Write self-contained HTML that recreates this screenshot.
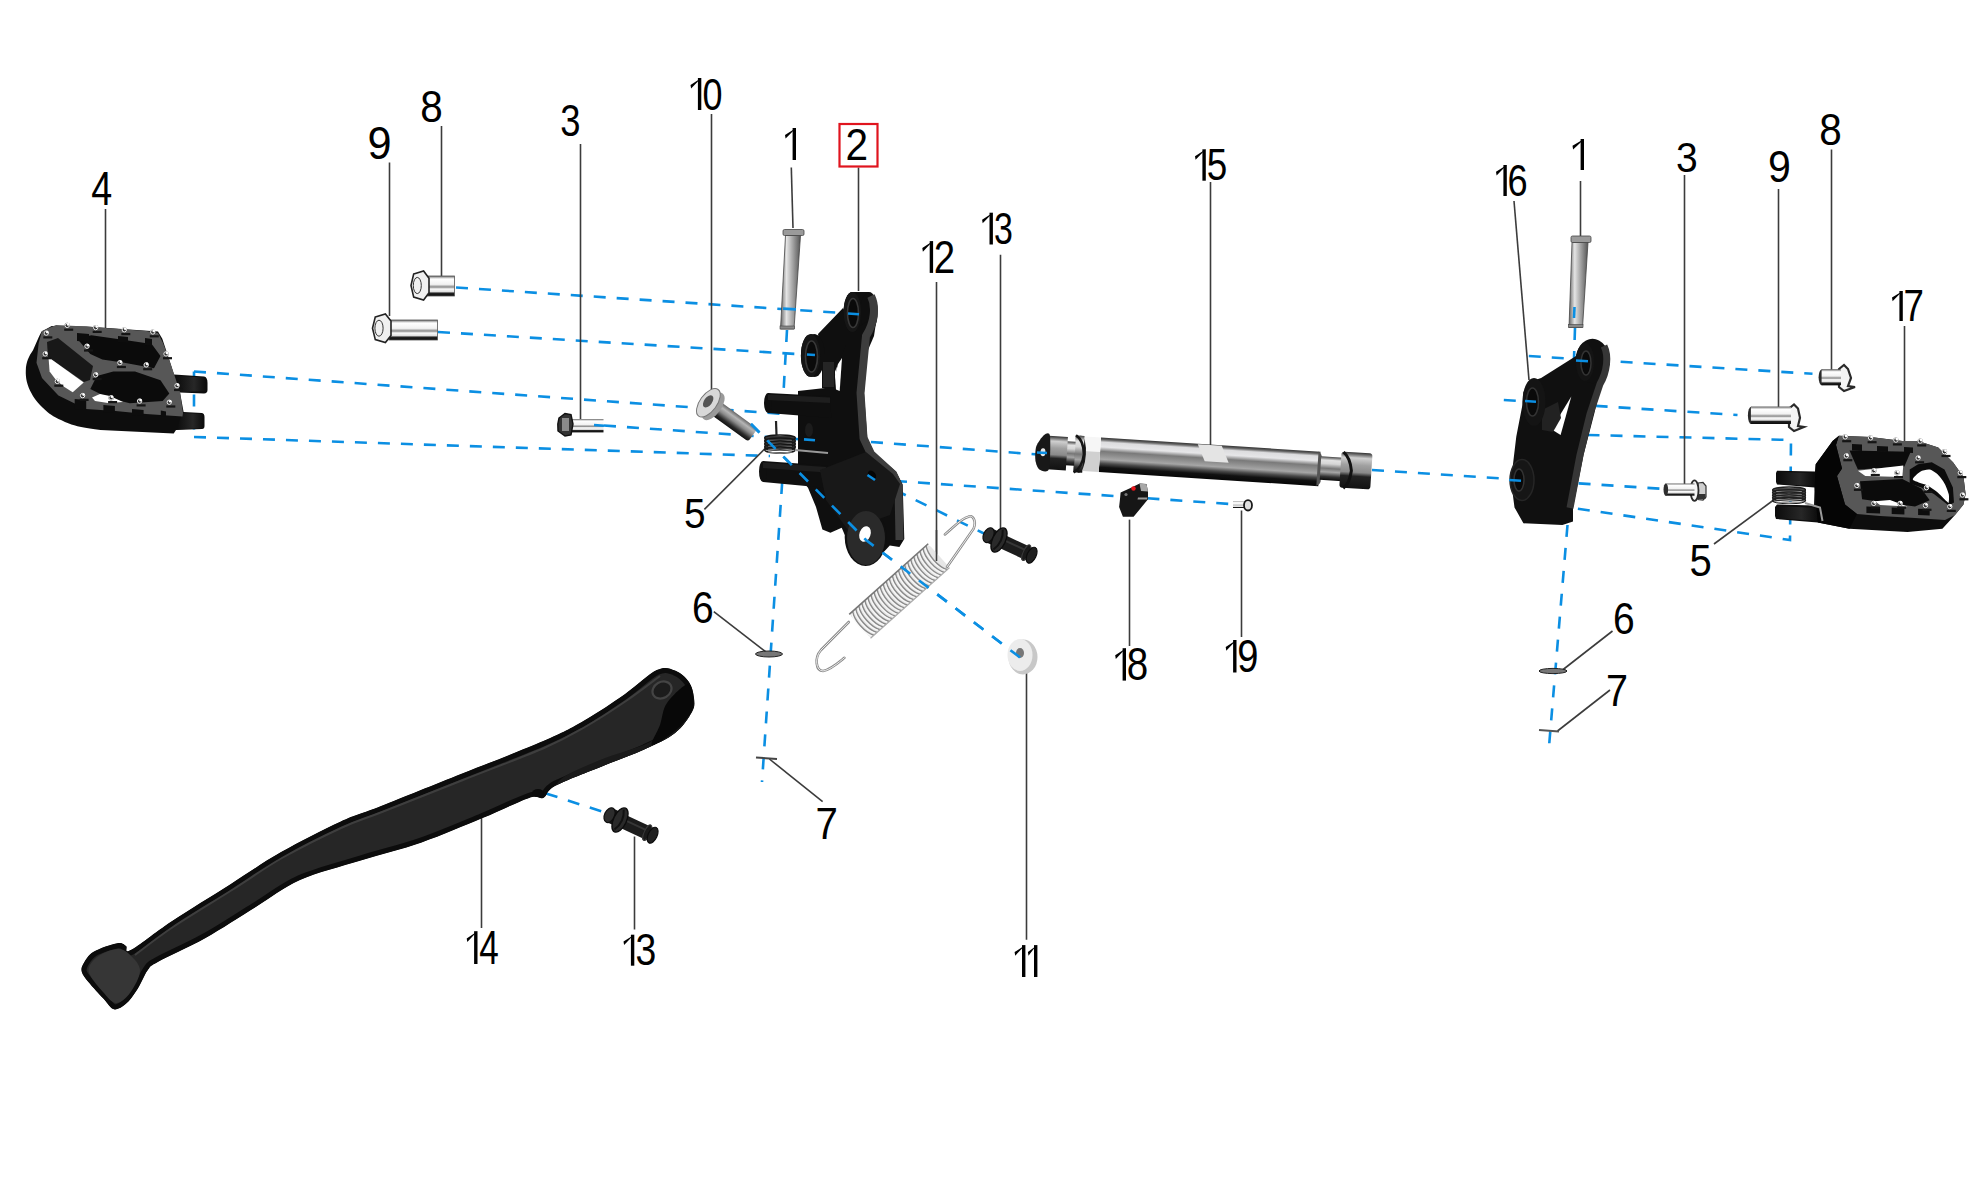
<!DOCTYPE html>
<html><head><meta charset="utf-8"><style>
html,body{margin:0;padding:0;background:#fff;width:1973px;height:1184px;overflow:hidden}
svg{display:block;font-family:"Liberation Sans",sans-serif}
</style></head><body>
<svg width="1973" height="1184" viewBox="0 0 1973 1184">
<defs>
<linearGradient id="shaft" x1="0" y1="0" x2="0" y2="1">
 <stop offset="0" stop-color="#333"/><stop offset="0.06" stop-color="#666"/><stop offset="0.13" stop-color="#dcdcde"/><stop offset="0.27" stop-color="#e6e6e8"/>
 <stop offset="0.4" stop-color="#7a7a7a"/><stop offset="0.5" stop-color="#8c8c8c"/><stop offset="0.63" stop-color="#a6a6a6"/><stop offset="0.75" stop-color="#4a4a4a"/>
 <stop offset="0.86" stop-color="#111"/><stop offset="1" stop-color="#070707"/></linearGradient>
<linearGradient id="shaft2" x1="0" y1="0" x2="0" y2="1">
 <stop offset="0" stop-color="#444"/><stop offset="0.15" stop-color="#e2e2e2"/><stop offset="0.3" stop-color="#d5d5d5"/>
 <stop offset="0.5" stop-color="#777"/><stop offset="0.65" stop-color="#a5a5a5"/><stop offset="0.85" stop-color="#333"/><stop offset="1" stop-color="#0a0a0a"/></linearGradient>
<linearGradient id="cap" x1="0" y1="0" x2="0" y2="1">
 <stop offset="0" stop-color="#333"/><stop offset="0.15" stop-color="#cfcfcf"/><stop offset="0.35" stop-color="#a0a0a0"/>
 <stop offset="0.55" stop-color="#8a8a8a"/><stop offset="0.66" stop-color="#222"/><stop offset="1" stop-color="#121212"/></linearGradient>
<linearGradient id="bolt" x1="0" y1="0" x2="0" y2="1">
 <stop offset="0" stop-color="#666"/><stop offset="0.08" stop-color="#bbb"/><stop offset="0.15" stop-color="#fff"/><stop offset="0.42" stop-color="#f2f2f2"/>
 <stop offset="0.55" stop-color="#8a8a8a"/><stop offset="0.65" stop-color="#fafafa"/><stop offset="0.78" stop-color="#e0e0e0"/><stop offset="0.86" stop-color="#222"/><stop offset="1" stop-color="#0a0a0a"/></linearGradient>
<linearGradient id="pin10" x1="0" y1="0" x2="0" y2="1">
 <stop offset="0" stop-color="#666"/><stop offset="0.25" stop-color="#b5b5b5"/><stop offset="0.5" stop-color="#8a8a8a"/><stop offset="0.8" stop-color="#2a2a2a"/><stop offset="1" stop-color="#111"/></linearGradient>
<linearGradient id="pin" x1="0" y1="0" x2="1" y2="0">
 <stop offset="0" stop-color="#666"/><stop offset="0.3" stop-color="#e4e4e4"/><stop offset="0.55" stop-color="#b0b0b0"/><stop offset="1" stop-color="#555"/></linearGradient>
<linearGradient id="prong" x1="0" y1="0" x2="1" y2="0">
 <stop offset="0" stop-color="#0c0c0c"/><stop offset="0.6" stop-color="#2a2a2a"/><stop offset="1" stop-color="#0c0c0c"/></linearGradient>
</defs>
<rect width="1973" height="1184" fill="#fff"/>
<path d="M456.0,287.5 L858.0,314.0" fill="none" stroke="#0b8fe3" stroke-width="2.6" stroke-dasharray="12 11"/>
<path d="M438.0,332.0 L813.0,355.0" fill="none" stroke="#0b8fe3" stroke-width="2.6" stroke-dasharray="12 11"/>
<path d="M194.0,371.5 L784.0,414.0" fill="none" stroke="#0b8fe3" stroke-width="2.6" stroke-dasharray="12 11"/>
<path d="M194.0,371.5 L194.0,437.0" fill="none" stroke="#0b8fe3" stroke-width="2.6" stroke-dasharray="12 11"/>
<path d="M194.0,437.0 L770.0,456.0" fill="none" stroke="#0b8fe3" stroke-width="2.6" stroke-dasharray="12 11"/>
<path d="M604.0,425.5 L811.0,440.0" fill="none" stroke="#0b8fe3" stroke-width="2.6" stroke-dasharray="12 11"/>
<path d="M871.0,442.0 L1045.0,455.0" fill="none" stroke="#0b8fe3" stroke-width="2.6" stroke-dasharray="12 11"/>
<path d="M751.0,424.0 L866.0,540.0 L1022.0,659.0" fill="none" stroke="#0b8fe3" stroke-width="2.6" stroke-dasharray="12 11"/>
<path d="M787.0,330.0 L783.3,396.0" fill="none" stroke="#0b8fe3" stroke-width="2.6" stroke-dasharray="12 11"/>
<path d="M782.2,482.0 L762.0,782.0" fill="none" stroke="#0b8fe3" stroke-width="2.6" stroke-dasharray="12 11"/>
<path d="M895.0,481.0 L1245.0,505.0" fill="none" stroke="#0b8fe3" stroke-width="2.6" stroke-dasharray="12 11"/>
<path d="M895.0,490.0 L985.0,534.0" fill="none" stroke="#0b8fe3" stroke-width="2.6" stroke-dasharray="12 11"/>
<path d="M546.0,793.4 L604.5,812.3" fill="none" stroke="#0b8fe3" stroke-width="2.6" stroke-dasharray="12 11"/>
<path d="M1372.0,470.0 L1665.0,489.0" fill="none" stroke="#0b8fe3" stroke-width="2.6" stroke-dasharray="12 11"/>
<path d="M1528.8,356.0 L1812.5,373.8" fill="none" stroke="#0b8fe3" stroke-width="2.6" stroke-dasharray="12 11"/>
<path d="M1503.8,400.0 L1737.5,415.0" fill="none" stroke="#0b8fe3" stroke-width="2.6" stroke-dasharray="12 11"/>
<path d="M1587.5,435.0 L1791.0,440.0 L1790.0,540.0 L1570.0,507.5" fill="none" stroke="#0b8fe3" stroke-width="2.6" stroke-dasharray="12 11"/>
<path d="M1575.0,328.0 L1572.0,420.0" fill="none" stroke="#0b8fe3" stroke-width="2.6" stroke-dasharray="12 11"/>
<path d="M1567.5,525.0 L1548.8,749.0" fill="none" stroke="#0b8fe3" stroke-width="2.6" stroke-dasharray="12 11"/>
<line x1="105.5" y1="209.0" x2="105.5" y2="335.0" stroke="#3c3c3c" stroke-width="1.6"/>
<line x1="389.5" y1="162.5" x2="389.5" y2="316.0" stroke="#3c3c3c" stroke-width="1.6"/>
<line x1="441.5" y1="126.0" x2="441.5" y2="282.0" stroke="#3c3c3c" stroke-width="1.6"/>
<line x1="580.5" y1="144.0" x2="580.5" y2="420.0" stroke="#3c3c3c" stroke-width="1.6"/>
<line x1="711.5" y1="114.0" x2="711.5" y2="391.0" stroke="#3c3c3c" stroke-width="1.6"/>
<line x1="858.5" y1="167.5" x2="858.5" y2="291.0" stroke="#3c3c3c" stroke-width="1.6"/>
<line x1="936.5" y1="282.0" x2="936.5" y2="560.0" stroke="#3c3c3c" stroke-width="1.6"/>
<line x1="1000.5" y1="254.7" x2="1000.5" y2="530.0" stroke="#3c3c3c" stroke-width="1.6"/>
<line x1="1210.5" y1="182.0" x2="1210.5" y2="461.0" stroke="#3c3c3c" stroke-width="1.6"/>
<line x1="1129.5" y1="519.6" x2="1129.5" y2="646.0" stroke="#3c3c3c" stroke-width="1.6"/>
<line x1="1241.5" y1="510.5" x2="1241.5" y2="637.0" stroke="#3c3c3c" stroke-width="1.6"/>
<line x1="1580.5" y1="181.0" x2="1580.5" y2="236.0" stroke="#3c3c3c" stroke-width="1.6"/>
<line x1="1684.5" y1="175.0" x2="1684.5" y2="490.0" stroke="#3c3c3c" stroke-width="1.6"/>
<line x1="1778.5" y1="189.0" x2="1778.5" y2="416.0" stroke="#3c3c3c" stroke-width="1.6"/>
<line x1="1831.5" y1="149.5" x2="1831.5" y2="370.0" stroke="#3c3c3c" stroke-width="1.6"/>
<line x1="1904.5" y1="326.0" x2="1904.5" y2="450.0" stroke="#3c3c3c" stroke-width="1.6"/>
<line x1="481.5" y1="802.0" x2="481.5" y2="928.0" stroke="#3c3c3c" stroke-width="1.6"/>
<line x1="634.5" y1="836.5" x2="634.5" y2="929.5" stroke="#3c3c3c" stroke-width="1.6"/>
<line x1="1026.5" y1="666.0" x2="1026.5" y2="939.7" stroke="#3c3c3c" stroke-width="1.6"/>
<line x1="791.3" y1="167.5" x2="793.0" y2="228.0" stroke="#3c3c3c" stroke-width="1.6"/>
<line x1="1514.0" y1="201.0" x2="1529.0" y2="380.0" stroke="#3c3c3c" stroke-width="1.6"/>
<line x1="704.4" y1="509.4" x2="766.0" y2="447.5" stroke="#3c3c3c" stroke-width="1.6"/>
<line x1="713.8" y1="611.6" x2="766.0" y2="652.0" stroke="#3c3c3c" stroke-width="1.6"/>
<line x1="769.4" y1="759.0" x2="822.6" y2="801.6" stroke="#3c3c3c" stroke-width="1.6"/>
<line x1="1714.0" y1="544.0" x2="1775.0" y2="499.0" stroke="#3c3c3c" stroke-width="1.6"/>
<line x1="1612.5" y1="631.0" x2="1562.5" y2="670.0" stroke="#3c3c3c" stroke-width="1.6"/>
<line x1="1610.0" y1="690.0" x2="1557.5" y2="731.0" stroke="#3c3c3c" stroke-width="1.6"/>
<path d="M41.6,331.6 L51.7,325.9 L86,326.5 L158,331.6 L162.3,338.8 L170.9,364.7 L174,374.5 L204,376.5 Q207.5,377 207.5,383 L207.5,390 Q207.5,393.4 204,393.4 L180,392.5 L183.6,412 L202,413 Q204.5,413.5 204.5,417 L204.5,426 Q204.5,429 202,429 L176,430 L173.7,433.6 L100.5,430 C85,428 75,426 68.9,423.5 C58,419 52,416 47.4,412 C40,405 35,400 31.6,393.4 C27,385 25.5,378 25.8,370.4 C26,362 29,356 33,350.3 C36,344 38,338 41.6,331.6 Z" fill="#0d0d0d"/>
<path d="M176.0,376.0 L205.0,377.5 L206.0,391.0 L180.0,392.0 Z" fill="url(#prong)" opacity="0.9"/>
<path d="M182.0,413.0 L203.0,414.0 L203.5,428.0 L177.0,429.5 Z" fill="url(#prong)" opacity="0.9"/>
<path d="M42.0,331.0 L56.0,325.0 L86.0,326.5 L115.5,328.7 L146.0,331.0 L158.0,333.0 L163.0,343.0 L169.0,359.0 L174.0,374.0 L180.0,392.0 L183.0,413.0 L182.5,416.5 L146.0,414.0 L115.5,411.0 L86.0,409.0 L58.4,395.6 L42.0,378.0 L36.5,362.7 L38.7,343.0 Z" fill="#575757"/>
<path d="M77.0,338.5 L91.3,335.2 L129.8,340.7 L151.7,344.0 L160.5,356.0 L154.0,368.2 L124.3,362.7 L102.3,359.4 L90.3,354.0 Z" fill="#0b0b0b"/>
<path d="M47.0,342.0 L58.0,338.0 L93.0,366.0 L90.0,380.0 L84.0,382.0 L48.0,357.0 Z" fill="#181818"/>
<path d="M48.5,357.2 L83.7,382.4 L72.7,392.3 L64.0,386.8 L56.0,380.0 L49.6,371.5 Z" fill="#fff"/>
<path d="M90.3,389.0 L96.8,376.0 L113.3,371.5 L135.0,371.5 L160.5,380.3 L169.3,393.4 L162.7,401.0 L129.8,403.3 L107.8,397.8 Z" fill="#0b0b0b"/>
<path d="M92.0,397.5 L100.0,394.0 L110.0,396.0 L123.0,402.0 L108.0,403.0 L95.0,401.0 Z" fill="#fff"/>
<path d="M74.7,399.0 L86.2,400.0 L86.2,410.0 L74.7,409.0 Z" fill="#0d0d0d"/>
<path d="M103.4,404.9 L114.9,405.9 L114.9,413.0 L103.4,412.0 Z" fill="#0d0d0d"/>
<path d="M132.0,409.0 L143.6,410.0 L143.6,416.0 L132.0,415.0 Z" fill="#0d0d0d"/>
<path d="M160.8,410.6 L166.0,411.6 L166.0,417.0 L160.8,416.0 Z" fill="#0d0d0d"/>
<path d="M77.0,333.0 L89.0,334.0 L89.0,342.0 L77.0,341.0 Z" fill="#0d0d0d"/>
<path d="M118.0,336.0 L128.0,337.0 L128.0,343.0 L118.0,342.0 Z" fill="#0d0d0d"/>
<path d="M145.0,338.0 L152.0,339.0 L152.0,346.0 L145.0,345.0 Z" fill="#0d0d0d"/>
<rect x="43.3" y="336.3" width="9" height="2.2" fill="#151515"/>
<circle cx="46.3" cy="333.1" r="2.6" fill="#333"/><circle cx="46.3" cy="333.1" r="2.2" fill="none" stroke="#eee" stroke-width="1"/><circle cx="47.2" cy="332.1" r="1.3" fill="#fff"/>
<rect x="64.2" y="328.6" width="9" height="2.2" fill="#151515"/>
<circle cx="67.2" cy="325.4" r="2.6" fill="#333"/><circle cx="67.2" cy="325.4" r="2.2" fill="none" stroke="#eee" stroke-width="1"/><circle cx="68.1" cy="324.4" r="1.3" fill="#fff"/>
<rect x="92.7" y="330.8" width="9" height="2.2" fill="#151515"/>
<circle cx="95.7" cy="327.6" r="2.6" fill="#333"/><circle cx="95.7" cy="327.6" r="2.2" fill="none" stroke="#eee" stroke-width="1"/><circle cx="96.6" cy="326.6" r="1.3" fill="#fff"/>
<rect x="121.3" y="333.0" width="9" height="2.2" fill="#151515"/>
<circle cx="124.3" cy="329.8" r="2.6" fill="#333"/><circle cx="124.3" cy="329.8" r="2.2" fill="none" stroke="#eee" stroke-width="1"/><circle cx="125.2" cy="328.8" r="1.3" fill="#fff"/>
<rect x="149.8" y="335.2" width="9" height="2.2" fill="#151515"/>
<circle cx="152.8" cy="332.0" r="2.6" fill="#333"/><circle cx="152.8" cy="332.0" r="2.2" fill="none" stroke="#eee" stroke-width="1"/><circle cx="153.7" cy="331.0" r="1.3" fill="#fff"/>
<rect x="84.0" y="349.4" width="9" height="2.2" fill="#151515"/>
<circle cx="87.0" cy="346.2" r="2.6" fill="#333"/><circle cx="87.0" cy="346.2" r="2.2" fill="none" stroke="#eee" stroke-width="1"/><circle cx="87.9" cy="345.2" r="1.3" fill="#fff"/>
<rect x="42.2" y="357.1" width="9" height="2.2" fill="#151515"/>
<circle cx="45.2" cy="353.9" r="2.6" fill="#333"/><circle cx="45.2" cy="353.9" r="2.2" fill="none" stroke="#eee" stroke-width="1"/><circle cx="46.1" cy="352.9" r="1.3" fill="#fff"/>
<rect x="163.0" y="357.1" width="9" height="2.2" fill="#151515"/>
<circle cx="166.0" cy="353.9" r="2.6" fill="#333"/><circle cx="166.0" cy="353.9" r="2.2" fill="none" stroke="#eee" stroke-width="1"/><circle cx="166.9" cy="352.9" r="1.3" fill="#fff"/>
<rect x="116.9" y="365.9" width="9" height="2.2" fill="#151515"/>
<circle cx="119.9" cy="362.7" r="2.6" fill="#333"/><circle cx="119.9" cy="362.7" r="2.2" fill="none" stroke="#eee" stroke-width="1"/><circle cx="120.8" cy="361.7" r="1.3" fill="#fff"/>
<rect x="143.2" y="368.1" width="9" height="2.2" fill="#151515"/>
<circle cx="146.2" cy="364.9" r="2.6" fill="#333"/><circle cx="146.2" cy="364.9" r="2.2" fill="none" stroke="#eee" stroke-width="1"/><circle cx="147.1" cy="363.9" r="1.3" fill="#fff"/>
<rect x="92.7" y="378.0" width="9" height="2.2" fill="#151515"/>
<circle cx="95.7" cy="374.8" r="2.6" fill="#333"/><circle cx="95.7" cy="374.8" r="2.2" fill="none" stroke="#eee" stroke-width="1"/><circle cx="96.6" cy="373.8" r="1.3" fill="#fff"/>
<rect x="174.0" y="388.9" width="9" height="2.2" fill="#151515"/>
<circle cx="177.0" cy="385.7" r="2.6" fill="#333"/><circle cx="177.0" cy="385.7" r="2.2" fill="none" stroke="#eee" stroke-width="1"/><circle cx="177.9" cy="384.7" r="1.3" fill="#fff"/>
<rect x="54.3" y="384.6" width="9" height="2.2" fill="#151515"/>
<circle cx="57.3" cy="381.4" r="2.6" fill="#333"/><circle cx="57.3" cy="381.4" r="2.2" fill="none" stroke="#eee" stroke-width="1"/><circle cx="58.2" cy="380.4" r="1.3" fill="#fff"/>
<rect x="79.6" y="398.8" width="9" height="2.2" fill="#151515"/>
<circle cx="82.6" cy="395.6" r="2.6" fill="#333"/><circle cx="82.6" cy="395.6" r="2.2" fill="none" stroke="#eee" stroke-width="1"/><circle cx="83.5" cy="394.6" r="1.3" fill="#fff"/>
<rect x="108.1" y="401.0" width="9" height="2.2" fill="#151515"/>
<circle cx="111.1" cy="397.8" r="2.6" fill="#333"/><circle cx="111.1" cy="397.8" r="2.2" fill="none" stroke="#eee" stroke-width="1"/><circle cx="112.0" cy="396.8" r="1.3" fill="#fff"/>
<rect x="136.6" y="404.3" width="9" height="2.2" fill="#151515"/>
<circle cx="139.6" cy="401.1" r="2.6" fill="#333"/><circle cx="139.6" cy="401.1" r="2.2" fill="none" stroke="#eee" stroke-width="1"/><circle cx="140.5" cy="400.1" r="1.3" fill="#fff"/>
<rect x="166.3" y="405.4" width="9" height="2.2" fill="#151515"/>
<circle cx="169.3" cy="402.2" r="2.6" fill="#333"/><circle cx="169.3" cy="402.2" r="2.2" fill="none" stroke="#eee" stroke-width="1"/><circle cx="170.2" cy="401.2" r="1.3" fill="#fff"/>
<path d="M1777.0,470.7 L1815.0,471.5 L1815.7,464.3 L1832.6,441.1 L1838.9,435.8 L1870.6,436.9 L1902.3,441.1 L1918.1,441.1 L1938.2,447.5 L1953.0,462.2 L1963.5,477.0 L1965.6,493.9 L1963.5,504.5 L1955.0,515.0 L1942.4,528.8 L1907.5,531.9 L1849.5,528.8 L1817.8,522.4 L1776.0,519.0 L1775.0,516.0 L1775.0,507.0 L1777.0,504.5 L1814.0,505.5 L1814.6,487.6 L1777.0,484.4 L1776.0,482.0 L1776.0,473.0 Z" fill="#0d0d0d"/>
<path d="M1778.0,472.0 L1814.0,473.0 L1814.0,486.0 L1778.0,484.0 Z" fill="url(#prong)" opacity="0.9"/>
<path d="M1776.0,506.0 L1818.0,508.0 L1818.0,521.0 L1776.0,518.0 Z" fill="url(#prong)" opacity="0.9"/>
<path d="M1838.9,435.8 L1870.6,436.9 L1902.3,441.1 L1918.1,441.1 L1938.2,447.5 L1953.0,462.2 L1963.5,477.0 L1965.6,493.9 L1963.5,504.5 L1955.0,515.0 L1945.0,520.0 L1915.0,518.0 L1880.0,516.0 L1857.0,514.0 L1845.0,504.5 L1837.0,476.0 L1842.0,468.6 L1836.0,445.0 Z" fill="#575757"/>
<path d="M1849.5,450.6 L1910.7,451.7 L1904.4,466.5 L1857.9,469.6 Z" fill="#0b0b0b"/>
<path d="M1857.9,470.7 L1903.3,465.4 L1902.3,477.0 L1865.3,476.0 Z" fill="#fff"/>
<path d="M1860.0,481.2 L1902.3,479.0 L1921.3,488.6 L1929.7,500.2 L1915.0,506.6 L1862.1,499.2 Z" fill="#0b0b0b"/>
<path d="M1874.8,501.3 L1890.0,500.0 L1907.5,506.6 L1880.0,505.0 Z" fill="#fff"/>
<path d="M1909.7,469.6 L1918.1,464.3 L1931.8,462.2 L1944.5,469.6 L1952.9,487.6 L1954.0,502.4 L1948.7,505.5 L1933.9,493.9 L1921.3,487.6 L1909.7,483.4 Z" fill="#0b0b0b"/>
<path d="M1912.8,479.1 C1913.1,477.7 1917.9,473.0 1920.2,471.7 C1922.5,470.4 1927.3,469.2 1929.7,469.6 C1932.1,470.0 1936.2,473.1 1938.2,474.9 C1940.2,476.7 1943.1,480.9 1944.5,483.4 C1945.9,485.9 1948.1,491.4 1948.7,493.9 C1949.3,496.4 1949.0,501.4 1948.7,502.4 C1948.4,503.4 1948.0,502.6 1946.6,501.3 C1945.2,500.0 1940.7,495.0 1938.2,492.9 C1935.7,490.8 1930.3,486.9 1927.6,485.5 C1924.9,484.1 1920.1,483.2 1918.1,482.3 C1916.1,481.4 1912.5,480.5 1912.8,479.1 Z" fill="#fff"/>
<path d="M1815.7,464.3 L1832.6,441.1 L1838.9,435.8 L1836.0,445.0 L1842.0,468.6 L1837.0,476.0 L1845.0,504.5 L1857.0,514.0 L1849.5,528.8 L1817.8,522.4 L1814.6,487.6 Z" fill="#050505"/>
<path d="M1866.4,506.6 L1880.1,507.1 L1880.1,513.5 L1866.4,513.0 Z" fill="#0d0d0d"/>
<path d="M1891.7,507.6 L1904.4,508.1 L1904.4,514.5 L1891.7,514.0 Z" fill="#0d0d0d"/>
<path d="M1918.1,508.7 L1929.7,509.2 L1929.7,515.5 L1918.1,515.0 Z" fill="#0d0d0d"/>
<path d="M1852.0,444.0 L1862.0,444.5 L1862.0,451.0 L1852.0,450.5 Z" fill="#0d0d0d"/>
<path d="M1877.0,446.0 L1888.0,446.5 L1888.0,452.0 L1877.0,451.5 Z" fill="#0d0d0d"/>
<path d="M1904.0,447.0 L1913.0,447.5 L1913.0,453.0 L1904.0,452.5 Z" fill="#0d0d0d"/>
<rect x="1842.2" y="440.1" width="9" height="2.2" fill="#151515"/>
<circle cx="1845.2" cy="436.9" r="2.6" fill="#333"/><circle cx="1845.2" cy="436.9" r="2.2" fill="none" stroke="#eee" stroke-width="1"/><circle cx="1846.1" cy="435.9" r="1.3" fill="#fff"/>
<rect x="1867.6" y="441.1" width="9" height="2.2" fill="#151515"/>
<circle cx="1870.6" cy="437.9" r="2.6" fill="#333"/><circle cx="1870.6" cy="437.9" r="2.2" fill="none" stroke="#eee" stroke-width="1"/><circle cx="1871.5" cy="436.9" r="1.3" fill="#fff"/>
<rect x="1892.9" y="443.3" width="9" height="2.2" fill="#151515"/>
<circle cx="1895.9" cy="440.1" r="2.6" fill="#333"/><circle cx="1895.9" cy="440.1" r="2.2" fill="none" stroke="#eee" stroke-width="1"/><circle cx="1896.8" cy="439.1" r="1.3" fill="#fff"/>
<rect x="1917.2" y="444.3" width="9" height="2.2" fill="#151515"/>
<circle cx="1920.2" cy="441.1" r="2.6" fill="#333"/><circle cx="1920.2" cy="441.1" r="2.2" fill="none" stroke="#eee" stroke-width="1"/><circle cx="1921.1" cy="440.1" r="1.3" fill="#fff"/>
<rect x="1941.5" y="454.9" width="9" height="2.2" fill="#151515"/>
<circle cx="1944.5" cy="451.7" r="2.6" fill="#333"/><circle cx="1944.5" cy="451.7" r="2.2" fill="none" stroke="#eee" stroke-width="1"/><circle cx="1945.4" cy="450.7" r="1.3" fill="#fff"/>
<rect x="1843.3" y="459.1" width="9" height="2.2" fill="#151515"/>
<circle cx="1846.3" cy="455.9" r="2.6" fill="#333"/><circle cx="1846.3" cy="455.9" r="2.2" fill="none" stroke="#eee" stroke-width="1"/><circle cx="1847.2" cy="454.9" r="1.3" fill="#fff"/>
<rect x="1915.1" y="461.2" width="9" height="2.2" fill="#151515"/>
<circle cx="1918.1" cy="458.0" r="2.6" fill="#333"/><circle cx="1918.1" cy="458.0" r="2.2" fill="none" stroke="#eee" stroke-width="1"/><circle cx="1919.0" cy="457.0" r="1.3" fill="#fff"/>
<rect x="1957.3" y="476.0" width="9" height="2.2" fill="#151515"/>
<circle cx="1960.3" cy="472.8" r="2.6" fill="#333"/><circle cx="1960.3" cy="472.8" r="2.2" fill="none" stroke="#eee" stroke-width="1"/><circle cx="1961.2" cy="471.8" r="1.3" fill="#fff"/>
<rect x="1870.8" y="473.9" width="9" height="2.2" fill="#151515"/>
<circle cx="1873.8" cy="470.7" r="2.6" fill="#333"/><circle cx="1873.8" cy="470.7" r="2.2" fill="none" stroke="#eee" stroke-width="1"/><circle cx="1874.7" cy="469.7" r="1.3" fill="#fff"/>
<rect x="1894.0" y="476.0" width="9" height="2.2" fill="#151515"/>
<circle cx="1897.0" cy="472.8" r="2.6" fill="#333"/><circle cx="1897.0" cy="472.8" r="2.2" fill="none" stroke="#eee" stroke-width="1"/><circle cx="1897.9" cy="471.8" r="1.3" fill="#fff"/>
<rect x="1853.9" y="488.7" width="9" height="2.2" fill="#151515"/>
<circle cx="1856.9" cy="485.5" r="2.6" fill="#333"/><circle cx="1856.9" cy="485.5" r="2.2" fill="none" stroke="#eee" stroke-width="1"/><circle cx="1857.8" cy="484.5" r="1.3" fill="#fff"/>
<rect x="1923.5" y="490.8" width="9" height="2.2" fill="#151515"/>
<circle cx="1926.5" cy="487.6" r="2.6" fill="#333"/><circle cx="1926.5" cy="487.6" r="2.2" fill="none" stroke="#eee" stroke-width="1"/><circle cx="1927.4" cy="486.6" r="1.3" fill="#fff"/>
<rect x="1959.4" y="498.2" width="9" height="2.2" fill="#151515"/>
<circle cx="1962.4" cy="495.0" r="2.6" fill="#333"/><circle cx="1962.4" cy="495.0" r="2.2" fill="none" stroke="#eee" stroke-width="1"/><circle cx="1963.3" cy="494.0" r="1.3" fill="#fff"/>
<rect x="1870.8" y="506.6" width="9" height="2.2" fill="#151515"/>
<circle cx="1873.8" cy="503.4" r="2.6" fill="#333"/><circle cx="1873.8" cy="503.4" r="2.2" fill="none" stroke="#eee" stroke-width="1"/><circle cx="1874.7" cy="502.4" r="1.3" fill="#fff"/>
<rect x="1897.1" y="506.6" width="9" height="2.2" fill="#151515"/>
<circle cx="1900.1" cy="503.4" r="2.6" fill="#333"/><circle cx="1900.1" cy="503.4" r="2.2" fill="none" stroke="#eee" stroke-width="1"/><circle cx="1901.0" cy="502.4" r="1.3" fill="#fff"/>
<rect x="1922.5" y="508.7" width="9" height="2.2" fill="#151515"/>
<circle cx="1925.5" cy="505.5" r="2.6" fill="#333"/><circle cx="1925.5" cy="505.5" r="2.2" fill="none" stroke="#eee" stroke-width="1"/><circle cx="1926.4" cy="504.5" r="1.3" fill="#fff"/>
<rect x="1946.8" y="509.8" width="9" height="2.2" fill="#151515"/>
<circle cx="1949.8" cy="506.6" r="2.6" fill="#333"/><circle cx="1949.8" cy="506.6" r="2.2" fill="none" stroke="#eee" stroke-width="1"/><circle cx="1950.7" cy="505.6" r="1.3" fill="#fff"/>
<rect x="1772.5" y="488" width="33.5" height="13" rx="3" fill="#4a4a4a"/>
<ellipse cx="1789" cy="490.0" rx="16.5" ry="3" fill="none" stroke="#1e1e1e" stroke-width="1.3"/>
<path d="M1776,491.5 Q1789,494.0 1802,491.5" fill="none" stroke="#9a9a9a" stroke-width="1"/>
<ellipse cx="1789" cy="492.6" rx="16.5" ry="3" fill="none" stroke="#1e1e1e" stroke-width="1.3"/>
<path d="M1776,494.1 Q1789,496.6 1802,494.1" fill="none" stroke="#9a9a9a" stroke-width="1"/>
<ellipse cx="1789" cy="495.2" rx="16.5" ry="3" fill="none" stroke="#1e1e1e" stroke-width="1.3"/>
<path d="M1776,496.7 Q1789,499.2 1802,496.7" fill="none" stroke="#9a9a9a" stroke-width="1"/>
<ellipse cx="1789" cy="497.8" rx="16.5" ry="3" fill="none" stroke="#1e1e1e" stroke-width="1.3"/>
<path d="M1776,499.3 Q1789,501.8 1802,499.3" fill="none" stroke="#9a9a9a" stroke-width="1"/>
<ellipse cx="1789" cy="500.4" rx="16.5" ry="3" fill="none" stroke="#1e1e1e" stroke-width="1.3"/>
<path d="M1776,501.9 Q1789,504.4 1802,501.9" fill="none" stroke="#9a9a9a" stroke-width="1"/>
<path d="M1805,503 L1820,507.6 L1822.5,521" fill="none" stroke="#999" stroke-width="2"/>
<g fill="#0f0f0f">
<path d="M798.0,391.0 L834.0,387.0 L838.0,360.0 L845.0,340.0 L856.0,333.0 L869.0,332.0 L868.0,345.8 L864.0,393.0 L867.3,438.0 L873.8,452.4 L896.2,471.7 L902.7,484.5 L904.3,539.0 L899.4,547.1 L889.8,545.5 L880.0,556.0 L850.0,552.0 L846.5,539.0 L841.7,527.8 L830.4,532.7 L822.4,529.4 L816.0,507.0 L808.0,487.7 L798.0,476.0 Z"/>
<path d="M818.0,334.0 L843.0,308.0 L858.0,333.0 L846.0,345.0 L834.0,374.0 L823.0,364.0 Z"/>
<ellipse cx="852.3" cy="312" rx="8.7" ry="20"/><rect x="852.3" y="292" width="16.7" height="40"/><ellipse cx="869" cy="312" rx="8.7" ry="20"/>
<ellipse cx="810.5" cy="355.5" rx="9.6" ry="21.3"/><rect x="810.5" y="334.2" width="5" height="42.6"/><ellipse cx="815" cy="355.5" rx="9.6" ry="21.3"/>
<rect x="822" y="355" width="13" height="33"/>
<path d="M856.0,328.0 L877.0,316.0 L874.0,336.0 L868.0,350.0 L856.0,350.0 Z"/>
<ellipse cx="865.7" cy="537" rx="21" ry="29"/>
<path d="M767.8,393.0 L830.4,396.2 L831.2,418.0 L767.8,413.0 Z"/>
<ellipse cx="768" cy="403" rx="4" ry="10"/>
<path d="M763.0,461.0 L827.2,465.5 L827.2,488.0 L763.0,482.0 Z"/>
<ellipse cx="763" cy="471.5" rx="4" ry="10.5"/>
</g>
<path d="M871,296 C876,306 875,322 866,336 L860.5,393 L863.5,438 L871,454 L893,474 L898.5,486 L899.5,540" fill="none" stroke="#3d3d3d" stroke-width="8" stroke-linejoin="round"/>
<ellipse cx="852.3" cy="312" rx="8.7" ry="20" fill="#161616"/>
<ellipse cx="853" cy="313" rx="5.5" ry="14.5" fill="#0a0a0a" stroke="#383838" stroke-width="1.6"/>
<ellipse cx="810.5" cy="355.5" rx="9.6" ry="21.3" fill="#161616"/>
<ellipse cx="811.5" cy="356.5" rx="6" ry="15.5" fill="#0a0a0a" stroke="#383838" stroke-width="1.6"/>
<rect x="823" y="362" width="11" height="25" fill="#252525"/>
<path d="M842.0,358.0 L839.7,391.0 L836.0,389.5 L835.0,376.0 L838.0,364.0 Z" fill="#fff"/>
<path d="M768.0,394.5 L830.0,397.5 L830.0,403.0 L768.0,400.0 Z" fill="#1e1e1e"/>
<path d="M763.0,462.5 L826.0,467.0 L826.0,472.5 L763.0,468.0 Z" fill="#1e1e1e"/>
<path d="M820.0,470.0 L866.0,452.0 L893.0,474.0 L900.0,484.0 L890.0,515.0 L848.0,530.0 L826.0,500.0 Z" fill="#181818"/>
<ellipse cx="866" cy="538" rx="19" ry="27" fill="#2a2a2a"/>
<ellipse cx="865" cy="534" rx="5.5" ry="8" fill="#fff" transform="rotate(20 865 534)"/>
<ellipse cx="872" cy="475" rx="3.5" ry="5" fill="#050505" transform="rotate(-40 872 475)"/>
<ellipse cx="809" cy="430" rx="4" ry="7" fill="#1c1c1c"/>
<rect x="764.5" y="436" width="31" height="14.5" rx="3" fill="#3a3a3a"/>
<ellipse cx="780" cy="438.0" rx="15.3" ry="3" fill="none" stroke="#151515" stroke-width="1.4"/>
<path d="M768,440.0 Q780,442.5 792,440.0" fill="none" stroke="#8a8a8a" stroke-width="1"/>
<ellipse cx="780" cy="441.0" rx="15.3" ry="3" fill="none" stroke="#151515" stroke-width="1.4"/>
<path d="M768,443.0 Q780,445.5 792,443.0" fill="none" stroke="#8a8a8a" stroke-width="1"/>
<ellipse cx="780" cy="444.0" rx="15.3" ry="3" fill="none" stroke="#151515" stroke-width="1.4"/>
<path d="M768,446.0 Q780,448.5 792,446.0" fill="none" stroke="#8a8a8a" stroke-width="1"/>
<ellipse cx="780" cy="447.0" rx="15.3" ry="3" fill="none" stroke="#151515" stroke-width="1.4"/>
<path d="M768,449.0 Q780,451.5 792,449.0" fill="none" stroke="#8a8a8a" stroke-width="1"/>
<ellipse cx="780" cy="450.0" rx="15.3" ry="3" fill="none" stroke="#151515" stroke-width="1.4"/>
<path d="M768,452.0 Q780,454.5 792,452.0" fill="none" stroke="#8a8a8a" stroke-width="1"/>
<path d="M776.5,435 L776,421" stroke="#222" stroke-width="2.2"/>
<path d="M795,450 L828,453" stroke="#999" stroke-width="2.2"/>
<path d="M1590.0,352.0 L1609.0,362.0 L1601.4,383.2 L1594.3,413.4 L1583.7,454.2 L1573.0,507.4 L1573.0,521.6 L1562.4,525.1 L1523.4,523.3 L1514.5,507.4 L1511.0,480.8 L1516.3,436.4 L1522.5,404.5 L1523.4,392.1 L1530.5,381.4 L1541.1,377.9 L1576.0,356.0 L1578.0,350.0 Z" fill="#101010"/>
<ellipse cx="1592.5" cy="361" rx="17" ry="22.3" fill="#101010"/>
<path d="M1604,346 C1609,356 1607,372 1600,384 L1590,414 L1580,455 L1570,508" fill="none" stroke="#363636" stroke-width="7" stroke-linejoin="round"/>
<ellipse cx="1585" cy="362" rx="9" ry="19" fill="#141414"/>
<ellipse cx="1586" cy="363" rx="5" ry="12" fill="#0a0a0a" stroke="#333" stroke-width="1.5"/>
<path d="M1571.3,396.5 L1551.4,429.3 L1560.6,435.0 Z" fill="#fff"/>
<path d="M1542.0,410.0 L1558.0,402.0 L1561.0,418.0 L1553.0,432.0 L1542.0,430.0 Z" fill="#222"/>
<ellipse cx="1534" cy="402" rx="11.5" ry="24" fill="#141414"/>
<ellipse cx="1532.5" cy="402" rx="6" ry="14" fill="#0a0a0a" stroke="#333" stroke-width="1.5"/>
<ellipse cx="1522" cy="480" rx="12" ry="20.5" fill="#161616" stroke="#262626" stroke-width="1.5"/>
<ellipse cx="1519" cy="480" rx="5" ry="11" fill="#0a0a0a" stroke="#333" stroke-width="1.5"/>
<clipPath id="ksclip"><path d="M81.8,972.0 C81.0,968.9 81.5,967.0 83.5,963.6 C85.5,960.2 88.0,955.2 93.6,951.8 C99.2,948.4 111.9,944.3 117.3,943.3 C122.7,942.3 123.8,944.9 126.0,946.0 C128.2,947.1 123.2,954.2 130.8,950.1 C138.4,946.0 154.8,932.4 171.4,921.4 C188.0,910.4 212.2,895.8 230.5,884.2 C248.8,872.7 262.8,862.5 281.1,852.1 C299.4,841.7 323.6,829.4 340.3,821.7 C357.0,814.0 360.8,814.0 381.1,806.0 C401.4,798.0 435.2,784.3 462.2,773.5 C489.2,762.7 523.0,749.9 543.3,741.1 C563.6,732.3 570.3,728.6 583.8,720.8 C597.3,713.0 612.2,703.0 624.4,694.5 C636.6,686.0 648.4,674.1 656.8,670.1 C665.2,666.1 669.6,668.5 675.0,670.5 C680.4,672.5 685.8,677.4 689.0,682.0 C692.2,686.6 693.5,693.0 694.0,698.0 C694.5,703.0 695.2,706.2 692.0,712.0 C688.8,717.8 682.9,726.8 675.0,733.0 C667.1,739.2 656.5,743.8 644.7,749.2 C632.9,754.6 619.0,759.3 604.1,765.4 C589.2,771.5 565.5,780.3 555.4,785.7 C545.3,791.1 547.7,795.9 543.3,797.9 C538.9,799.9 539.2,794.5 529.1,797.9 C519.0,801.3 500.4,810.7 482.5,818.1 C464.6,825.5 441.9,835.4 421.6,842.5 C401.3,849.6 381.1,854.2 360.8,860.5 C340.5,866.8 317.5,872.2 300.0,880.0 C282.5,887.8 271.6,897.3 255.8,907.0 C240.0,916.7 221.4,929.1 205.1,938.2 C188.8,947.4 167.4,956.5 157.8,961.9 C148.2,967.2 151.1,965.8 147.7,970.3 C144.3,974.8 141.3,983.3 137.6,988.9 C133.9,994.5 129.7,1000.7 125.7,1004.1 C121.8,1007.5 117.6,1010.1 113.9,1009.2 C110.2,1008.4 108.0,1003.5 103.8,999.0 C99.6,994.5 92.3,986.7 88.6,982.2 C84.9,977.7 82.6,975.1 81.8,972.0 Z"/></clipPath>
<path d="M81.8,972.0 C81.0,968.9 81.5,967.0 83.5,963.6 C85.5,960.2 88.0,955.2 93.6,951.8 C99.2,948.4 111.9,944.3 117.3,943.3 C122.7,942.3 123.8,944.9 126.0,946.0 C128.2,947.1 123.2,954.2 130.8,950.1 C138.4,946.0 154.8,932.4 171.4,921.4 C188.0,910.4 212.2,895.8 230.5,884.2 C248.8,872.7 262.8,862.5 281.1,852.1 C299.4,841.7 323.6,829.4 340.3,821.7 C357.0,814.0 360.8,814.0 381.1,806.0 C401.4,798.0 435.2,784.3 462.2,773.5 C489.2,762.7 523.0,749.9 543.3,741.1 C563.6,732.3 570.3,728.6 583.8,720.8 C597.3,713.0 612.2,703.0 624.4,694.5 C636.6,686.0 648.4,674.1 656.8,670.1 C665.2,666.1 669.6,668.5 675.0,670.5 C680.4,672.5 685.8,677.4 689.0,682.0 C692.2,686.6 693.5,693.0 694.0,698.0 C694.5,703.0 695.2,706.2 692.0,712.0 C688.8,717.8 682.9,726.8 675.0,733.0 C667.1,739.2 656.5,743.8 644.7,749.2 C632.9,754.6 619.0,759.3 604.1,765.4 C589.2,771.5 565.5,780.3 555.4,785.7 C545.3,791.1 547.7,795.9 543.3,797.9 C538.9,799.9 539.2,794.5 529.1,797.9 C519.0,801.3 500.4,810.7 482.5,818.1 C464.6,825.5 441.9,835.4 421.6,842.5 C401.3,849.6 381.1,854.2 360.8,860.5 C340.5,866.8 317.5,872.2 300.0,880.0 C282.5,887.8 271.6,897.3 255.8,907.0 C240.0,916.7 221.4,929.1 205.1,938.2 C188.8,947.4 167.4,956.5 157.8,961.9 C148.2,967.2 151.1,965.8 147.7,970.3 C144.3,974.8 141.3,983.3 137.6,988.9 C133.9,994.5 129.7,1000.7 125.7,1004.1 C121.8,1007.5 117.6,1010.1 113.9,1009.2 C110.2,1008.4 108.0,1003.5 103.8,999.0 C99.6,994.5 92.3,986.7 88.6,982.2 C84.9,977.7 82.6,975.1 81.8,972.0 Z" fill="#262626" stroke="#0c0c0c" stroke-width="10" clip-path="url(#ksclip)"/>
<path d="M135.0,955.0 C141.3,950.3 156.8,937.8 173.0,927.0 C189.2,916.2 213.8,901.5 232.0,890.0 C250.2,878.5 263.8,868.3 282.0,858.0 C300.2,847.7 324.3,835.7 341.0,828.0 C357.7,820.3 361.7,820.0 382.0,812.0 C402.3,804.0 436.0,790.7 463.0,780.0 C490.0,769.3 523.7,756.8 544.0,748.0 C564.3,739.2 571.3,734.8 585.0,727.0 C598.7,719.2 613.5,709.5 626.0,701.0 C638.5,692.5 654.3,680.2 660.0,676.0" fill="none" stroke="#3e3e3e" stroke-width="2" clip-path="url(#ksclip)"/>
<path d="M560.0,780.0 C566.7,773.3 585.0,766.3 600.0,760.0 C615.0,753.7 635.0,749.5 650.0,742.0 C665.0,734.5 681.7,715.3 690.0,715.0 C698.3,714.7 708.3,730.8 700.0,740.0 C691.7,749.2 663.3,760.0 640.0,770.0 C616.7,780.0 573.3,798.3 560.0,800.0 C546.7,801.7 553.3,786.7 560.0,780.0 Z" fill="#1a1a1a" clip-path="url(#ksclip)"/>
<path d="M90.0,965.0 C91.7,961.7 95.5,957.7 100.0,955.0 C104.5,952.3 112.3,949.3 117.0,949.0 C121.7,948.7 124.2,949.5 128.0,953.0 C131.8,956.5 139.7,963.3 140.0,970.0 C140.3,976.7 134.0,987.5 130.0,993.0 C126.0,998.5 120.5,1003.2 116.0,1003.0 C111.5,1002.8 107.3,996.7 103.0,992.0 C98.7,987.3 92.2,979.5 90.0,975.0 C87.8,970.5 88.3,968.3 90.0,965.0 Z" fill="#363636"/>
<ellipse cx="662" cy="690" rx="10" ry="8" fill="#1c1c1c" stroke="#444" stroke-width="2.2" transform="rotate(-30 662 690)"/>
<path d="M667.0,703.0 C671.7,696.2 683.7,684.5 688.0,684.0 C692.3,683.5 692.7,695.0 693.0,700.0 C693.3,705.0 693.0,708.8 690.0,714.0 C687.0,719.2 681.3,725.8 675.0,731.0 C668.7,736.2 654.5,746.0 652.0,745.0 C649.5,744.0 657.5,732.0 660.0,725.0 C662.5,718.0 662.3,709.8 667.0,703.0 Z" fill="#080808"/>
<ellipse cx="538" cy="793" rx="6" ry="4" fill="#0a0a0a"/>
<g transform="translate(1101,437.5) rotate(3.7)">
<rect x="0" y="0" width="220" height="34.5" fill="url(#shaft)"/>
<path d="M97,0.5 L121,0.5 L129,17 L105,17 Z" fill="#e4e4e4"/>
<path d="M218,0 Q222,2 222,8 L222,30 Q221,34 216,34.5 L218,34.5 Z" fill="#555"/>
<rect x="221" y="4.5" width="30" height="23.5" fill="url(#shaft2)"/>
<rect x="241" y="-1.5" width="31" height="36" rx="3" fill="url(#cap)"/>
<path d="M243,-1 Q250,4 252,17 Q251,30 245,35" fill="none" stroke="#111" stroke-width="3"/>
<rect x="-16" y="0" width="16" height="14.5" fill="#f6f6f6"/>
<rect x="-16" y="14.5" width="16" height="20" fill="#d0d0d0"/>
<ellipse cx="-20" cy="18" rx="6" ry="18.5" fill="#1a1a1a"/>
<rect x="-25.5" y="-0.5" width="9" height="37" fill="url(#shaft2)"/>
<path d="M-25,-0.5 Q-17,4 -16,18 Q-17,32 -25,36.5" fill="none" stroke="#151515" stroke-width="2.5"/>
<rect x="-34" y="6" width="9" height="24" fill="url(#shaft2)"/>
<rect x="-52" y="1.7" width="19" height="33.5" fill="url(#cap)"/>
<path d="M-57.0,1.2 C-55.3,-0.3 -51.9,-2.8 -51.0,1.7 C-50.1,6.2 -48.9,30.1 -50.0,34.7 C-51.1,39.3 -57.6,36.9 -59.5,35.9 C-61.4,34.9 -63.4,30.1 -64.0,27.0 C-64.6,23.9 -64.9,16.4 -64.0,13.0 C-63.1,9.6 -58.7,2.7 -57.0,1.2 Z" fill="#181818"/>
<ellipse cx="-57" cy="18.5" rx="2.5" ry="4" fill="#e8e8e8"/>
</g>
<path d="M785.5,235.5 L800.5,235.5 L794.0,329.0 L780.5,329.0 Z" fill="url(#pin)" stroke="#444" stroke-width="0.8"/>
<rect x="783.0" y="229.5" width="21.0" height="6.0" rx="1.5" fill="#9a9a9a" stroke="#444" stroke-width="0.8"/>
<rect x="780.0" y="326.0" width="14.5" height="3" fill="#888" stroke="#444" stroke-width="0.6"/>
<path d="M1572.0,242.5 L1588.0,242.5 L1582.5,327.5 L1569.0,327.5 Z" fill="url(#pin)" stroke="#444" stroke-width="0.8"/>
<rect x="1571.0" y="236.0" width="20.0" height="6.5" rx="1.5" fill="#9a9a9a" stroke="#444" stroke-width="0.8"/>
<rect x="1568.5" y="324.5" width="14.5" height="3" fill="#888" stroke="#444" stroke-width="0.6"/>
<rect x="427.0" y="276.0" width="27.5" height="20.0" fill="url(#bolt)" stroke="#555" stroke-width="0.8"/>
<path d="M413.7,273.9 L423.6,271.0 L429.0,278.2 L429.0,292.8 L423.6,300.0 L413.7,297.1 L411.0,285.5 Z" fill="#f0f0f0" stroke="#222" stroke-width="1.6"/>
<ellipse cx="417.3" cy="285.5" rx="4.0" ry="8.1" fill="none" stroke="#333" stroke-width="1"/>
<rect x="389.0" y="320.0" width="48.5" height="20.0" fill="url(#bolt)" stroke="#555" stroke-width="0.8"/>
<path d="M375.3,316.9 L385.4,314.0 L391.0,321.1 L391.0,335.4 L385.4,342.5 L375.3,339.6 L372.5,328.2 Z" fill="#f0f0f0" stroke="#222" stroke-width="1.6"/>
<ellipse cx="379.0" cy="328.2" rx="4.1" ry="8.0" fill="none" stroke="#333" stroke-width="1"/>
<rect x="570" y="419" width="33.5" height="13.4" fill="url(#bolt)"/>
<path d="M559,418 L565,413.5 L571,414.5 L573,424 L571,435 L565,436 L558,431 L557.8,424 Z" fill="#333" stroke="#111" stroke-width="1.4"/>
<rect x="562" y="418" width="7" height="13" fill="#8a8a8a"/>
<rect x="1821.6" y="369.4" width="19.4" height="15.8" fill="url(#bolt)"/>
<ellipse cx="1821.8" cy="377.3" rx="3.2" ry="7.9" fill="#2a2a2a"/>
<path d="M1839.0,369.0 L1844.0,365.0 L1848.0,369.0 L1851.0,378.0 L1848.0,386.0 L1855.0,387.0 L1844.0,391.0 L1839.0,387.0 Z" fill="#f4f4f4" stroke="#2a2a2a" stroke-width="2.2"/>
<rect x="1821.6" y="369.4" width="19.4" height="15.8" fill="url(#bolt)"/>
<rect x="1750.9" y="406.7" width="40.1" height="17.2" fill="url(#bolt)"/>
<ellipse cx="1751.1" cy="415.3" rx="3.2" ry="8.6" fill="#2a2a2a"/>
<path d="M1789.0,408.5 L1794.0,404.5 L1798.0,408.5 L1800.0,417.8 L1798.0,426.0 L1804.0,427.0 L1794.0,431.0 L1789.0,427.0 Z" fill="#f4f4f4" stroke="#2a2a2a" stroke-width="2.2"/>
<rect x="1750.9" y="406.7" width="40.1" height="17.2" fill="url(#bolt)"/>
<path d="M1698.0,483.0 L1703.0,482.5 L1706.0,486.0 L1706.0,497.0 L1703.0,500.0 L1698.0,499.5 Z" fill="#cfcfcf" stroke="#333" stroke-width="1.2"/>
<rect x="1698" y="494" width="7.5" height="5" fill="#333"/>
<ellipse cx="1694.5" cy="490.6" rx="4" ry="10.3" fill="#f4f4f4" stroke="#2a2a2a" stroke-width="1.8"/>
<rect x="1665.5" y="483.5" width="29" height="12.2" fill="url(#bolt)"/>
<ellipse cx="1665.8" cy="489.6" rx="2.3" ry="6.1" fill="#2e2e2e"/>
<g transform="translate(710,404) rotate(36)">
<rect x="6" y="-8" width="47" height="16" rx="3" fill="url(#pin10)"/>
<ellipse cx="4" cy="0" rx="8" ry="16" fill="#9a9a9a"/>
<ellipse cx="-2" cy="0" rx="8.5" ry="16.5" fill="#d8d8d8" stroke="#777" stroke-width="1"/>
<ellipse cx="-3" cy="-1" rx="4" ry="7" fill="#555"/>
</g>
<g transform="translate(999.0,540.0) rotate(25.0)">
<rect x="-11.5" y="-7.5" width="12" height="15" fill="#161616"/>
<ellipse cx="-11.5" cy="0" rx="5" ry="7.8" fill="#2c2c2c" stroke="#0e0e0e" stroke-width="1.2"/>
<rect x="0" y="-7" width="36" height="14" rx="2" fill="#1c1c1c"/>
<path d="M2,-2 L34,-2" stroke="#363636" stroke-width="2"/>
<ellipse cx="0" cy="0" rx="6.5" ry="13" fill="#2a2a2a" stroke="#0c0c0c" stroke-width="1.4"/>
<path d="M-1,-11 Q5,0 -1,11" fill="none" stroke="#111" stroke-width="2"/>
<ellipse cx="30" cy="0" rx="3" ry="8.5" fill="#1a1a1a" stroke="#3a3a3a" stroke-width="1"/>
<ellipse cx="36" cy="0" rx="4.5" ry="8.5" fill="#202020" stroke="#0c0c0c" stroke-width="1.2"/>
</g>
<g transform="translate(620.0,820.0) rotate(25.0)">
<rect x="-11.5" y="-7.5" width="12" height="15" fill="#161616"/>
<ellipse cx="-11.5" cy="0" rx="5" ry="7.8" fill="#2c2c2c" stroke="#0e0e0e" stroke-width="1.2"/>
<rect x="0" y="-7" width="36" height="14" rx="2" fill="#1c1c1c"/>
<path d="M2,-2 L34,-2" stroke="#363636" stroke-width="2"/>
<ellipse cx="0" cy="0" rx="6.5" ry="13" fill="#2a2a2a" stroke="#0c0c0c" stroke-width="1.4"/>
<path d="M-1,-11 Q5,0 -1,11" fill="none" stroke="#111" stroke-width="2"/>
<ellipse cx="30" cy="0" rx="3" ry="8.5" fill="#1a1a1a" stroke="#3a3a3a" stroke-width="1"/>
<ellipse cx="36" cy="0" rx="4.5" ry="8.5" fill="#202020" stroke="#0c0c0c" stroke-width="1.2"/>
</g>
<g transform="translate(937.4,557) rotate(138.2)">
<rect x="-2" y="-16" width="106" height="32" rx="4" fill="#e6e6e6"/>
<path d="M1.0,-16 C6.0,-8 6.0,8 1.0,16" fill="none" stroke="#8a8a8a" stroke-width="1.4"/>
<path d="M3.0,-15 C7.5,-8 7.5,8 3.0,15" fill="none" stroke="#fafafa" stroke-width="1"/>
<path d="M5.1,-16 C10.1,-8 10.1,8 5.1,16" fill="none" stroke="#8a8a8a" stroke-width="1.4"/>
<path d="M7.1,-15 C11.6,-8 11.6,8 7.1,15" fill="none" stroke="#fafafa" stroke-width="1"/>
<path d="M9.2,-16 C14.2,-8 14.2,8 9.2,16" fill="none" stroke="#8a8a8a" stroke-width="1.4"/>
<path d="M11.2,-15 C15.7,-8 15.7,8 11.2,15" fill="none" stroke="#fafafa" stroke-width="1"/>
<path d="M13.3,-16 C18.3,-8 18.3,8 13.3,16" fill="none" stroke="#8a8a8a" stroke-width="1.4"/>
<path d="M15.3,-15 C19.8,-8 19.8,8 15.3,15" fill="none" stroke="#fafafa" stroke-width="1"/>
<path d="M17.4,-16 C22.4,-8 22.4,8 17.4,16" fill="none" stroke="#8a8a8a" stroke-width="1.4"/>
<path d="M19.4,-15 C23.9,-8 23.9,8 19.4,15" fill="none" stroke="#fafafa" stroke-width="1"/>
<path d="M21.5,-16 C26.5,-8 26.5,8 21.5,16" fill="none" stroke="#8a8a8a" stroke-width="1.4"/>
<path d="M23.5,-15 C28.0,-8 28.0,8 23.5,15" fill="none" stroke="#fafafa" stroke-width="1"/>
<path d="M25.6,-16 C30.6,-8 30.6,8 25.6,16" fill="none" stroke="#8a8a8a" stroke-width="1.4"/>
<path d="M27.6,-15 C32.1,-8 32.1,8 27.6,15" fill="none" stroke="#fafafa" stroke-width="1"/>
<path d="M29.7,-16 C34.7,-8 34.7,8 29.7,16" fill="none" stroke="#8a8a8a" stroke-width="1.4"/>
<path d="M31.7,-15 C36.2,-8 36.2,8 31.7,15" fill="none" stroke="#fafafa" stroke-width="1"/>
<path d="M33.8,-16 C38.8,-8 38.8,8 33.8,16" fill="none" stroke="#8a8a8a" stroke-width="1.4"/>
<path d="M35.8,-15 C40.3,-8 40.3,8 35.8,15" fill="none" stroke="#fafafa" stroke-width="1"/>
<path d="M37.9,-16 C42.9,-8 42.9,8 37.9,16" fill="none" stroke="#8a8a8a" stroke-width="1.4"/>
<path d="M39.9,-15 C44.4,-8 44.4,8 39.9,15" fill="none" stroke="#fafafa" stroke-width="1"/>
<path d="M42.0,-16 C47.0,-8 47.0,8 42.0,16" fill="none" stroke="#8a8a8a" stroke-width="1.4"/>
<path d="M44.0,-15 C48.5,-8 48.5,8 44.0,15" fill="none" stroke="#fafafa" stroke-width="1"/>
<path d="M46.1,-16 C51.1,-8 51.1,8 46.1,16" fill="none" stroke="#8a8a8a" stroke-width="1.4"/>
<path d="M48.1,-15 C52.6,-8 52.6,8 48.1,15" fill="none" stroke="#fafafa" stroke-width="1"/>
<path d="M50.2,-16 C55.2,-8 55.2,8 50.2,16" fill="none" stroke="#8a8a8a" stroke-width="1.4"/>
<path d="M52.2,-15 C56.7,-8 56.7,8 52.2,15" fill="none" stroke="#fafafa" stroke-width="1"/>
<path d="M54.3,-16 C59.3,-8 59.3,8 54.3,16" fill="none" stroke="#8a8a8a" stroke-width="1.4"/>
<path d="M56.3,-15 C60.8,-8 60.8,8 56.3,15" fill="none" stroke="#fafafa" stroke-width="1"/>
<path d="M58.4,-16 C63.4,-8 63.4,8 58.4,16" fill="none" stroke="#8a8a8a" stroke-width="1.4"/>
<path d="M60.4,-15 C64.9,-8 64.9,8 60.4,15" fill="none" stroke="#fafafa" stroke-width="1"/>
<path d="M62.5,-16 C67.5,-8 67.5,8 62.5,16" fill="none" stroke="#8a8a8a" stroke-width="1.4"/>
<path d="M64.5,-15 C69.0,-8 69.0,8 64.5,15" fill="none" stroke="#fafafa" stroke-width="1"/>
<path d="M66.6,-16 C71.6,-8 71.6,8 66.6,16" fill="none" stroke="#8a8a8a" stroke-width="1.4"/>
<path d="M68.6,-15 C73.1,-8 73.1,8 68.6,15" fill="none" stroke="#fafafa" stroke-width="1"/>
<path d="M70.7,-16 C75.7,-8 75.7,8 70.7,16" fill="none" stroke="#8a8a8a" stroke-width="1.4"/>
<path d="M72.7,-15 C77.2,-8 77.2,8 72.7,15" fill="none" stroke="#fafafa" stroke-width="1"/>
<path d="M74.8,-16 C79.8,-8 79.8,8 74.8,16" fill="none" stroke="#8a8a8a" stroke-width="1.4"/>
<path d="M76.8,-15 C81.3,-8 81.3,8 76.8,15" fill="none" stroke="#fafafa" stroke-width="1"/>
<path d="M78.9,-16 C83.9,-8 83.9,8 78.9,16" fill="none" stroke="#8a8a8a" stroke-width="1.4"/>
<path d="M80.9,-15 C85.4,-8 85.4,8 80.9,15" fill="none" stroke="#fafafa" stroke-width="1"/>
<path d="M83.0,-16 C88.0,-8 88.0,8 83.0,16" fill="none" stroke="#8a8a8a" stroke-width="1.4"/>
<path d="M85.0,-15 C89.5,-8 89.5,8 85.0,15" fill="none" stroke="#fafafa" stroke-width="1"/>
<path d="M87.1,-16 C92.1,-8 92.1,8 87.1,16" fill="none" stroke="#8a8a8a" stroke-width="1.4"/>
<path d="M89.1,-15 C93.6,-8 93.6,8 89.1,15" fill="none" stroke="#fafafa" stroke-width="1"/>
<path d="M91.2,-16 C96.2,-8 96.2,8 91.2,16" fill="none" stroke="#8a8a8a" stroke-width="1.4"/>
<path d="M93.2,-15 C97.7,-8 97.7,8 93.2,15" fill="none" stroke="#fafafa" stroke-width="1"/>
<path d="M95.3,-16 C100.3,-8 100.3,8 95.3,16" fill="none" stroke="#8a8a8a" stroke-width="1.4"/>
<path d="M97.3,-15 C101.8,-8 101.8,8 97.3,15" fill="none" stroke="#fafafa" stroke-width="1"/>
<path d="M99.4,-16 C104.4,-8 104.4,8 99.4,16" fill="none" stroke="#8a8a8a" stroke-width="1.4"/>
<path d="M101.4,-15 C105.9,-8 105.9,8 101.4,15" fill="none" stroke="#fafafa" stroke-width="1"/>
<path d="M-2,-16 L104,-16" stroke="#aaa" stroke-width="1.2"/><path d="M-2,16 L104,16" stroke="#777" stroke-width="1.6"/>
</g>
<path d="M947,567 L973.6,528.7 C977,520 972,514 967.9,517 C962,518 955,526 944.9,534.4" fill="none" stroke="#8a8a8a" stroke-width="2.6" stroke-linecap="round"/>
<path d="M947,567 L973.6,528.7 C977,520 972,514 967.9,517 C962,518 955,526 944.9,534.4" fill="none" stroke="#eee" stroke-width="1" stroke-linecap="round"/>
<path d="M848.8,622 L821,650 C814,658 816,671 823,671 C830,670 838,663 844.4,657.8" fill="none" stroke="#8a8a8a" stroke-width="2.6" stroke-linecap="round"/>
<path d="M848.8,622 L821,650 C814,658 816,671 823,671 C830,670 838,663 844.4,657.8" fill="none" stroke="#eee" stroke-width="1" stroke-linecap="round"/>
<ellipse cx="1023" cy="657" rx="14.5" ry="17.5" fill="#c8c8c8"/>
<ellipse cx="1020" cy="655" rx="12.5" ry="16" fill="#ececec"/>
<ellipse cx="1020" cy="653" rx="4" ry="5" fill="#777"/>
<path d="M1119.1,507.0 L1122.9,516.8 L1133.6,516.8 L1148.0,499.3 L1148.0,491.7 L1146.5,484.1 L1139.7,483.4 L1130.5,488.0 L1120.6,492.5 L1119.9,500.0 Z" fill="#161616"/>
<path d="M1139.5,483.6 L1146.5,484.2 L1148.0,491.5 L1141.0,491.0 Z" fill="#a8a8a8"/>
<path d="M1138.0,497.5 L1147.5,497.5 L1147.0,499.5 L1137.5,499.5 Z" fill="#9a9a9a"/>
<circle cx="1133.5" cy="488.5" r="2.2" fill="#e8141a"/>
<circle cx="1126" cy="494.5" r="1.6" fill="#777"/>
<rect x="1233" y="501.6" width="11.5" height="6.4" fill="url(#bolt)"/>
<ellipse cx="1248" cy="505.3" rx="4" ry="5.2" fill="#e0e0e0" stroke="#1a1a1a" stroke-width="1.8"/>
<ellipse cx="769" cy="654" rx="13.5" ry="3" fill="#777" stroke="#222" stroke-width="1"/>
<path d="M756,757.5 L777,759" stroke="#444" stroke-width="2"/>
<ellipse cx="1553" cy="671" rx="14" ry="2.6" fill="#777" stroke="#222" stroke-width="1"/>
<path d="M1539,730 L1559,731.5" stroke="#555" stroke-width="2"/>
<path d="M751.0,424.0 L866.0,540.0 L1022.0,659.0" fill="none" stroke="#0b8fe3" stroke-width="2.6" stroke-dasharray="12 11"/>
<line x1="848.0" y1="313.5" x2="859.0" y2="314.3" stroke="#0b8fe3" stroke-width="2.6"/>
<line x1="807.0" y1="354.5" x2="815.0" y2="355.0" stroke="#0b8fe3" stroke-width="2.6"/>
<line x1="804.0" y1="439.4" x2="815.0" y2="440.2" stroke="#0b8fe3" stroke-width="2.6"/>
<line x1="1037.0" y1="452.5" x2="1047.0" y2="453.0" stroke="#0b8fe3" stroke-width="2.6"/>
<line x1="1576.0" y1="360.5" x2="1588.0" y2="361.3" stroke="#0b8fe3" stroke-width="2.6"/>
<line x1="1525.0" y1="401.0" x2="1536.0" y2="401.7" stroke="#0b8fe3" stroke-width="2.6"/>
<line x1="1509.0" y1="480.0" x2="1521.0" y2="480.8" stroke="#0b8fe3" stroke-width="2.6"/>
<line x1="783.0" y1="308.6" x2="796.0" y2="309.4" stroke="#0b8fe3" stroke-width="2.6"/>
<line x1="1574.5" y1="307.0" x2="1574.0" y2="318.0" stroke="#0b8fe3" stroke-width="2.6"/>
<line x1="594.0" y1="425.0" x2="604.0" y2="425.7" stroke="#0b8fe3" stroke-width="2.6"/>
<line x1="867.5" y1="475.0" x2="875.0" y2="480.0" stroke="#0b8fe3" stroke-width="2.6"/>
<line x1="936.5" y1="530.0" x2="936.5" y2="561.0" stroke="#3c3c3c" stroke-width="1.6"/>
<g font-family="Liberation Sans" fill="#000">
<text transform="translate(91.13,205.00) scale(0.3771,0.4724)" font-size="100">4</text>
<text transform="translate(367.47,159.05) scale(0.4330,0.4590)" font-size="100">9</text>
<text transform="translate(420.24,122.06) scale(0.4049,0.4520)" font-size="100">8</text>
<text transform="translate(560.36,135.57) scale(0.3638,0.4378)" font-size="100">3</text>
<path d="M699.6,78.0 L699.6,110.0" stroke="#000" stroke-width="3.4" fill="none"/>
<path d="M701.3,78.0 L690.5,85.0 L691.1,88.6 L697.9,81.5 Z" fill="#000"/>
<text transform="translate(702.39,109.56) scale(0.3598,0.4520)" font-size="100">0</text>
<path d="M794.3,128.0 L794.3,160.0" stroke="#000" stroke-width="3.4" fill="none"/>
<path d="M796.0,128.0 L785.0,135.0 L785.6,138.6 L792.6,131.5 Z" fill="#000"/>
<text transform="translate(845.46,160.00) scale(0.4061,0.4440)" font-size="100">2</text>
<path d="M931.4,241.1 L931.4,272.9" stroke="#000" stroke-width="3.4" fill="none"/>
<path d="M933.1,241.1 L922.3,248.1 L922.9,251.7 L929.7,244.6 Z" fill="#000"/>
<text transform="translate(933.67,272.90) scale(0.3841,0.4554)" font-size="100">2</text>
<path d="M991.2,212.7 L991.2,244.5" stroke="#000" stroke-width="3.4" fill="none"/>
<path d="M992.9,212.7 L982.1,219.7 L982.7,223.3 L989.5,216.2 Z" fill="#000"/>
<text transform="translate(994.11,244.06) scale(0.3396,0.4491)" font-size="100">3</text>
<path d="M1204.1,149.3 L1204.1,180.7" stroke="#000" stroke-width="3.4" fill="none"/>
<path d="M1205.8,149.3 L1195.0,156.2 L1195.6,159.8 L1202.4,152.8 Z" fill="#000"/>
<text transform="translate(1206.82,180.26) scale(0.3691,0.4500)" font-size="100">5</text>
<path d="M1505.1,165.0 L1505.1,196.0" stroke="#000" stroke-width="3.4" fill="none"/>
<path d="M1506.8,165.0 L1496.0,171.8 L1496.6,175.4 L1503.4,168.4 Z" fill="#000"/>
<text transform="translate(1507.46,195.57) scale(0.3619,0.4378)" font-size="100">6</text>
<path d="M1582.3,139.0 L1582.3,170.0" stroke="#000" stroke-width="3.4" fill="none"/>
<path d="M1584.0,139.0 L1572.5,145.8 L1573.1,149.4 L1580.6,142.4 Z" fill="#000"/>
<text transform="translate(1676.01,172.09) scale(0.3902,0.4237)" font-size="100">3</text>
<text transform="translate(1768.07,182.07) scale(0.4113,0.4449)" font-size="100">9</text>
<text transform="translate(1819.24,144.57) scale(0.4049,0.4378)" font-size="100">8</text>
<path d="M1901.1,291.0 L1901.1,321.0" stroke="#000" stroke-width="3.4" fill="none"/>
<path d="M1902.8,291.0 L1892.0,297.6 L1892.6,301.2 L1899.4,294.3 Z" fill="#000"/>
<text transform="translate(1903.42,321.00) scale(0.3674,0.4361)" font-size="100">7</text>
<text transform="translate(684.05,527.58) scale(0.3881,0.4300)" font-size="100">5</text>
<text transform="translate(692.02,622.57) scale(0.3901,0.4378)" font-size="100">6</text>
<text transform="translate(815.44,839.30) scale(0.4026,0.4506)" font-size="100">7</text>
<path d="M475.8,931.2 L475.8,964.0" stroke="#000" stroke-width="3.4" fill="none"/>
<path d="M477.5,931.2 L466.7,938.4 L467.3,942.0 L474.1,934.8 Z" fill="#000"/>
<text transform="translate(479.19,964.00) scale(0.3513,0.4768)" font-size="100">4</text>
<path d="M632.6,934.7 L632.6,965.7" stroke="#000" stroke-width="3.4" fill="none"/>
<path d="M634.3,934.7 L623.5,941.5 L624.1,945.1 L630.9,938.1 Z" fill="#000"/>
<text transform="translate(635.38,965.27) scale(0.3733,0.4378)" font-size="100">3</text>
<path d="M1023.7,945.1 L1023.7,977.0" stroke="#000" stroke-width="3.4" fill="none"/>
<path d="M1025.4,945.1 L1014.6,952.1 L1015.2,955.7 L1022.0,948.6 Z" fill="#000"/>
<path d="M1035.7,945.1 L1035.7,977.0" stroke="#000" stroke-width="3.4" fill="none"/>
<path d="M1037.4,945.1 L1027.9,952.1 L1028.5,955.7 L1034.0,948.6 Z" fill="#000"/>
<path d="M1124.3,648.2 L1124.3,680.6" stroke="#000" stroke-width="3.4" fill="none"/>
<path d="M1126.0,648.2 L1115.2,655.3 L1115.8,658.9 L1122.6,651.8 Z" fill="#000"/>
<text transform="translate(1126.82,680.15) scale(0.3857,0.4576)" font-size="100">8</text>
<path d="M1234.8,640.0 L1234.8,672.5" stroke="#000" stroke-width="3.4" fill="none"/>
<path d="M1236.5,640.0 L1225.7,647.1 L1226.3,650.8 L1233.1,643.6 Z" fill="#000"/>
<text transform="translate(1237.21,672.05) scale(0.3810,0.4590)" font-size="100">9</text>
<text transform="translate(1689.40,575.57) scale(0.4007,0.4443)" font-size="100">5</text>
<text transform="translate(1613.02,633.57) scale(0.3901,0.4449)" font-size="100">6</text>
<text transform="translate(1605.97,706.00) scale(0.3960,0.4506)" font-size="100">7</text>
</g>
<rect x="839.5" y="124" width="38" height="42.5" fill="none" stroke="#e0141e" stroke-width="2.2"/>
</svg>
</body></html>
